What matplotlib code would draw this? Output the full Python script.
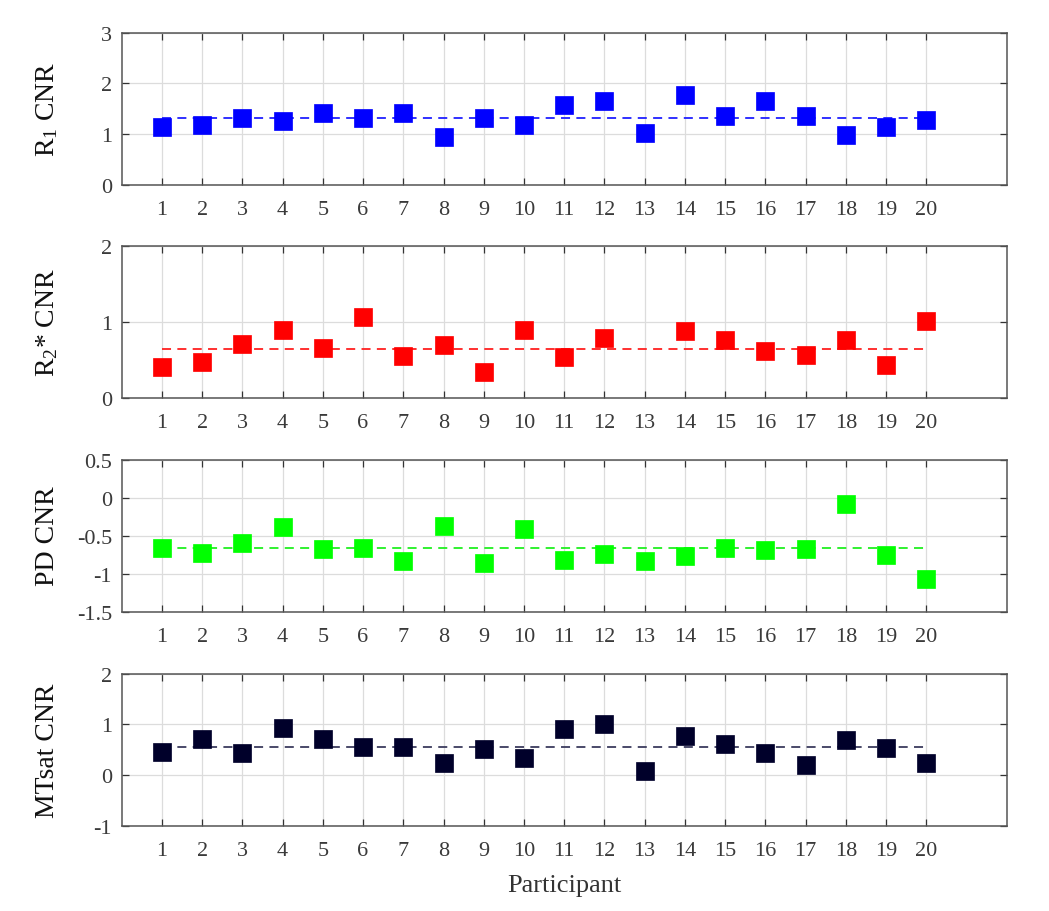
import matplotlib
matplotlib.use('Agg')
import matplotlib.pyplot as plt
from matplotlib.ticker import FuncFormatter
import numpy as np

plt.rcParams['font.family'] = ['Liberation Serif', 'DejaVu Serif']
plt.rcParams['mathtext.fontset'] = 'custom'
plt.rcParams['mathtext.rm'] = 'Liberation Serif'
plt.rcParams['mathtext.it'] = 'Liberation Serif:italic'
plt.rcParams['axes.unicode_minus'] = False

# data
participants = list(range(1, 21))
r1_cnr = [1.15, 1.18, 1.32, 1.25, 1.41, 1.32, 1.41, 0.94, 1.32, 1.18,
          1.58, 1.65, 1.03, 1.77, 1.36, 1.65, 1.36, 0.99, 1.14, 1.27]
r2s_cnr = [0.41, 0.47, 0.71, 0.90, 0.66, 1.06, 0.55, 0.70, 0.34, 0.89,
           0.54, 0.79, np.nan, 0.88, 0.76, 0.62, 0.57, 0.76, 0.43, 1.01]
pd_cnr = [-0.66, -0.73, -0.60, -0.39, -0.68, -0.66, -0.83, -0.38, -0.86, -0.41,
          -0.82, -0.74, -0.83, -0.77, -0.66, -0.69, -0.68, -0.08, -0.75, -1.07]
mtsat_cnr = [0.46, 0.71, 0.44, 0.92, 0.71, 0.56, 0.56, 0.24, 0.51, 0.33,
             0.91, 1.00, 0.07, 0.76, 0.61, 0.44, 0.20, 0.70, 0.53, 0.23]
mean_levels = [1.31, 0.65, -0.66, 0.55]

labels = ['R$_1$ CNR', 'R$_2$* CNR', 'PD CNR', 'MTsat CNR']
series = [r1_cnr, r2s_cnr, pd_cnr, mtsat_cnr]
colors = ['#0000ff', '#ff0000', '#00ff00', '#00002a']
line_colors = ['#2020ff', '#ff2020', '#20f020', '#3c3c5e']
ylims = [(0, 3), (0, 2), (-1.5, 0.5), (-1, 2)]
yticks = [[0, 1, 2, 3], [0, 1, 2], [-1.5, -1, -0.5, 0, 0.5], [-1, 0, 1, 2]]

fig = plt.figure(figsize=(10.49, 9.12), dpi=100)
fig.patch.set_facecolor('white')

left, width, height = 0.116, 0.8437, 0.1668
bottoms = [0.7962, 0.5625, 0.3282, 0.0935]

for i in range(4):
    ax = fig.add_axes([left, bottoms[i], width, height])
    ax.plot([participants[0], participants[-1]], [mean_levels[i]] * 2,
            color=line_colors[i], lw=1.3, linestyle=(0, (5, 3.5)), zorder=2)
    ax.plot(participants, series[i], linestyle='none', marker='s', ms=12.8,
            mfc=colors[i], mec=colors[i], mew=0.5, zorder=3)
    ax.set_xlim(0, 22)
    ax.set_ylim(*ylims[i])
    ax.set_xticks(participants)
    ax.set_yticks(yticks[i])
    ax.yaxis.set_major_formatter(FuncFormatter(lambda v, _: f'{v:g}'))
    ax.grid(True, color='#dcdcdc', lw=0.9)
    ax.set_axisbelow(True)
    ax.tick_params(direction='in', length=5, width=0.9, color='#333333',
                   top=True, right=True, labelsize=16, labelcolor='#3a3a3a')
    ax.tick_params(axis='x', pad=11)
    ax.tick_params(axis='y', pad=7)
    for sp in ax.spines.values():
        sp.set_color('#555555')
        sp.set_linewidth(1.1)
    ax.set_ylabel(labels[i], fontsize=20, color='#111111')
    ax.yaxis.set_label_coords(-0.07, 0.5)
    if i == 3:
        ax.set_xlabel('Participant', fontsize=19, color='#333333', labelpad=10)

fig.savefig('out.png', dpi=100, facecolor='white')
